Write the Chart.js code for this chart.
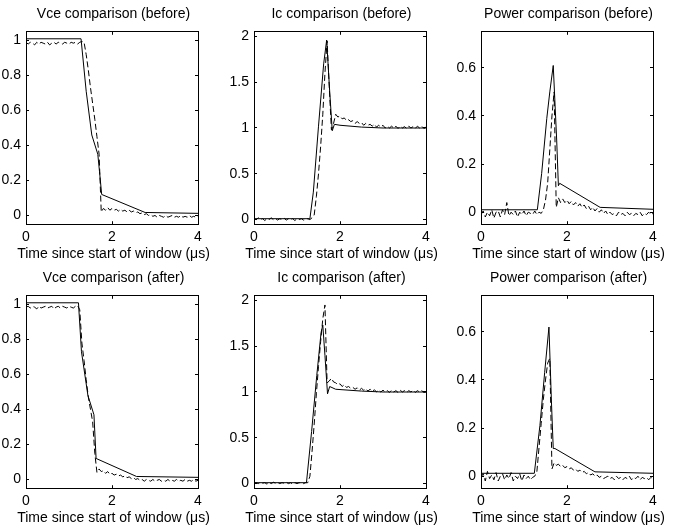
<!DOCTYPE html>
<html>
<head>
<meta charset="utf-8">
<script src="https://cdn.jsdelivr.net/npm/chart.js@4.4.1/dist/chart.umd.min.js"></script>
<style>
  html, body { margin: 0; padding: 0; background: #fff; }
  #page { position: relative; width: 682px; height: 529px; }
  .panel { position: absolute; width: 227px; height: 264px; }
</style>
</head>
<body>
<div id="page">
  <canvas id="vceBefore" class="panel" width="227" height="264" style="left:0px;top:0px"></canvas>
  <canvas id="icBefore" class="panel" width="227" height="264" style="left:228px;top:0px"></canvas>
  <canvas id="powerBefore" class="panel" width="227" height="264" style="left:455px;top:0px"></canvas>
  <canvas id="vceAfter" class="panel" width="227" height="264" style="left:0px;top:264px"></canvas>
  <canvas id="icAfter" class="panel" width="227" height="264" style="left:228px;top:264px"></canvas>
  <canvas id="powerAfter" class="panel" width="227" height="264" style="left:455px;top:264px"></canvas>
</div>
<script>
// tick labels
const xTicks = [0, 2, 4];
const vceTicks = [0, 0.2, 0.4, 0.6, 0.8, 1];
const icTicks = [0, 0.5, 1, 1.5, 2];
const powerTicks = [0, 0.2, 0.4, 0.6];

// measured waveforms share one time base (us)
const tMeas = [
  0, 0.05, 0.1, 0.15, 0.2, 0.25, 0.3, 0.35, 0.4, 0.45,
  0.5, 0.55, 0.6, 0.65, 0.7, 0.75, 0.8, 0.85, 0.9, 0.95,
  1.0, 1.05, 1.1, 1.15, 1.2, 1.25, 1.3, 1.35, 1.4, 1.45,
  1.5, 1.55, 1.6, 1.65, 1.7, 1.75, 1.8, 1.85, 1.9, 1.95,
  2.0, 2.05, 2.1, 2.15, 2.2, 2.25, 2.3, 2.35, 2.4, 2.45,
  2.5, 2.55, 2.6, 2.65, 2.7, 2.75, 2.8, 2.85, 2.9, 2.95,
  3.0, 3.05, 3.1, 3.15, 3.2, 3.25, 3.3, 3.35, 3.4, 3.45,
  3.5, 3.55, 3.6, 3.65, 3.7, 3.75, 3.8, 3.85, 3.9, 3.95,
  4.0
];

// --- before ---
const vceBeforeModelT = [0, 1.28, 1.4, 1.53, 1.67, 1.71, 1.76, 2.77, 4];
const vceBeforeModel = [1.01, 1.01, 0.71, 0.46, 0.35, 0.25, 0.12, 0.017, 0.012];
const vceBeforeMeas = [
  0.99, 0.98, 0.99, 0.985, 0.975, 0.99, 0.98, 0.99, 0.985, 0.98,
  0.99, 0.975, 0.985, 0.99, 0.98, 0.99, 0.985, 0.98, 0.99, 0.985,
  0.98, 0.99, 0.985, 0.99, 0.98, 0.99, 0.995, 0.99, 0.92, 0.83,
  0.73, 0.64, 0.55, 0.45, 0.35, 0.02, 0.04, 0.03, 0.045, 0.03,
  0.04, 0.03, 0.035, 0.025, 0.035, 0.025, 0.03, 0.02, 0.03, 0.02,
  0.025, 0.015, 0.02, 0.01, 0.015, 0.005, 0.01, 0.0, 0.005, -0.005,
  0.0, -0.01, 0.0, -0.005, -0.01, 0.0, -0.01, -0.005, 0.0, -0.01,
  -0.005, -0.01, 0.0, -0.01, -0.005, -0.01, 0.0, -0.01, -0.005, -0.01,
  0.0
];

const icBeforeModelT = [0, 1.3, 1.38, 1.5, 1.62, 1.69, 1.76, 1.82, 1.87, 2.0, 2.5, 3.0, 4.0];
const icBeforeModel = [0.01, 0.01, 0.3, 1.02, 1.7, 1.96, 1.4, 0.97, 1.04, 1.03, 1.01, 1.0, 1.0];
const icBeforeMeas = [
  0.01, 0.0, 0.02, 0.0, 0.01, -0.01, 0.01, 0.0, 0.02, 0.0,
  0.01, -0.005, 0.01, 0.0, 0.015, -0.005, 0.01, 0.0, 0.01, -0.01,
  0.01, 0.0, 0.01, -0.005, 0.0, 0.01, 0.0, 0.02, 0.05, 0.25,
  0.5, 0.8, 1.15, 1.6, 1.95, 1.45, 0.98, 1.05, 1.15, 1.12,
  1.13, 1.1, 1.11, 1.08, 1.09, 1.07, 1.08, 1.05, 1.07, 1.05,
  1.06, 1.03, 1.05, 1.03, 1.04, 1.02, 1.04, 1.01, 1.03, 1.01,
  1.03, 1.0, 1.02, 1.0, 1.02, 1.0, 1.02, 0.995, 1.02, 1.0,
  1.015, 0.995, 1.02, 1.0, 1.015, 0.995, 1.02, 1.0, 1.02, 0.995,
  1.01
];

const powerBeforeModelT = [0, 1.31, 1.41, 1.53, 1.6, 1.68, 1.76, 1.8, 1.83, 2.77, 4];
const powerBeforeModel = [0.01, 0.01, 0.16, 0.39, 0.5, 0.61, 0.3, 0.11, 0.12, 0.02, 0.012];
const powerBeforeMeas = [
  -0.01, 0.005, -0.02, 0.0, -0.015, 0.01, -0.025, 0.0, 0.005, -0.02,
  0.01, -0.01, 0.04, -0.015, 0.0, -0.01, 0.005, -0.02, 0.0, -0.01,
  0.005, -0.015, 0.0, -0.005, -0.01, 0.005, -0.01, 0.0, -0.005, 0.01,
  0.05, 0.12, 0.26, 0.40, 0.50, 0.02, 0.06, 0.04, 0.055, 0.04,
  0.05, 0.035, 0.045, 0.03, 0.04, 0.025, 0.035, 0.02, 0.03, 0.015,
  0.025, 0.01, 0.02, 0.005, 0.015, 0.0, 0.01, -0.005, 0.005, -0.01,
  0.0, -0.01, -0.005, -0.015, 0.0, -0.01, -0.005, -0.015, 0.0, -0.01,
  -0.005, -0.015, -0.005, -0.01, 0.0, -0.015, -0.005, -0.01, 0.0, -0.01,
  -0.005
];

// --- after ---
const vceAfterModelT = [0, 1.22, 1.29, 1.44, 1.58, 1.63, 2.57, 4];
const vceAfterModel = [1.01, 1.01, 0.73, 0.48, 0.37, 0.12, 0.017, 0.012];
const vceAfterMeas = [
  0.985, 0.99, 0.98, 0.99, 0.985, 0.975, 0.99, 0.98, 0.985, 0.99,
  0.98, 0.985, 0.99, 0.975, 0.985, 0.99, 0.98, 0.99, 0.985, 0.98,
  0.99, 0.985, 0.98, 0.99, 0.995, 0.97, 0.78, 0.68, 0.57, 0.47,
  0.40, 0.33, 0.15, 0.04, 0.06, 0.045, 0.05, 0.035, 0.045, 0.03,
  0.035, 0.025, 0.03, 0.02, 0.025, 0.015, 0.02, 0.01, 0.015, 0.005,
  0.01, 0.0, 0.005, -0.005, 0.0, -0.01, 0.0, -0.005, -0.01, 0.0,
  -0.01, -0.005, 0.0, -0.01, -0.005, -0.01, 0.0, -0.01, -0.005, -0.01,
  0.0, -0.01, -0.005, -0.01, 0.0, -0.01, -0.005, -0.01, 0.0, -0.01,
  -0.005
];

const icAfterModelT = [0, 1.22, 1.34, 1.46, 1.56, 1.6, 1.65, 1.71, 1.76, 1.9, 2.5, 3.0, 4];
const icAfterModel = [0.01, 0.01, 0.57, 1.18, 1.65, 1.73, 1.4, 0.98, 1.06, 1.03, 1.01, 1.0, 1.0];
const icAfterMeas = [
  0.005, 0.01, 0.0, 0.015, 0.005, 0.01, -0.005, 0.01, 0.0, 0.015,
  0.005, 0.01, 0.0, 0.01, 0.005, 0.015, 0.0, 0.01, -0.005, 0.01,
  0.0, 0.01, 0.005, 0.0, 0.01, 0.01, 0.08, 0.35, 0.65, 0.98,
  1.28, 1.55, 1.8, 1.95, 1.1, 1.12, 1.15, 1.11, 1.1, 1.08,
  1.09, 1.06, 1.08, 1.05, 1.06, 1.04, 1.05, 1.03, 1.045, 1.02,
  1.04, 1.02, 1.035, 1.01, 1.03, 1.005, 1.025, 1.0, 1.02, 1.0,
  1.02, 1.0, 1.015, 0.995, 1.02, 1.0, 1.015, 0.995, 1.02, 1.0,
  1.015, 0.995, 1.015, 1.0, 1.02, 0.995, 1.015, 1.0, 1.015, 0.995,
  1.0
];

const powerAfterModelT = [0, 1.24, 1.37, 1.48, 1.58, 1.64, 1.68, 1.72, 2.65, 4];
const powerAfterModel = [0.012, 0.012, 0.21, 0.43, 0.62, 0.3, 0.115, 0.115, 0.018, 0.012];
const powerAfterMeas = [
  -0.005, 0.01, -0.02, 0.02, -0.01, 0.005, -0.015, 0.015, -0.02, 0.0,
  0.01, -0.015, 0.005, -0.01, 0.015, -0.02, 0.0, -0.01, 0.01, -0.02,
  0.005, -0.01, 0.0, -0.015, -0.005, 0.0, 0.02, 0.12, 0.22, 0.32,
  0.40, 0.47, 0.49, 0.03, 0.055, 0.045, 0.05, 0.04, 0.045, 0.035,
  0.04, 0.03, 0.035, 0.025, 0.03, 0.02, 0.025, 0.015, 0.02, 0.01,
  0.015, 0.005, 0.01, 0.0, 0.005, -0.005, 0.0, -0.01, -0.005, 0.0,
  -0.01, -0.005, -0.015, 0.0, -0.01, -0.005, -0.015, -0.005, -0.01, 0.0,
  -0.015, -0.005, -0.01, 0.0, -0.015, -0.005, -0.01, -0.005, -0.015, -0.005,
  -0.01
];

const xLabel = 'Time since start of window (\u03bcs)';

const fontFamily = "'Liberation Sans', Arial, Helvetica, sans-serif";
Chart.defaults.font.family = fontFamily;
Chart.defaults.font.size = 14;
Chart.defaults.color = '#000';

function pts(ts, vs) {
  return ts.map((t, i) => ({ x: t, y: vs[i] }));
}

// MATLAB-like axis: inward tick marks, black box edge
// size = fixed thickness of the axis strip in px
function axis(position, min, max, tickValues, withLabels, size) {
  const horizontal = position === 'top' || position === 'bottom';
  return {
    type: 'linear',
    axis: horizontal ? 'x' : 'y',
    position: position,
    min: min,
    max: max,
    afterBuildTicks: s => { s.ticks = tickValues.map(v => ({ value: v })); },
    afterFit: s => {
      if (horizontal) s.height = size;
      else s.width = size;
    },
    grid: { drawOnChartArea: false, drawTicks: true, tickLength: -3, color: '#000', lineWidth: 1 },
    border: { display: true, color: '#000', width: 1 },
    ticks: {
      display: withLabels,
      padding: 8,
      color: '#000',
      font: { family: fontFamily, size: 14 },
      callback: v => String(+v.toFixed(2))
    }
  };
}

function panel(id, title, yMin, yMax, yTicks, modelT, model, meas) {
  new Chart(document.getElementById(id), {
    type: 'line',
    data: {
      datasets: [
        {
          label: 'model',
          data: pts(modelT, model),
          borderColor: '#000',
          borderWidth: 1,
          pointRadius: 0,
          fill: false,
          tension: 0
        },
        {
          label: 'measured',
          data: pts(tMeas, meas),
          borderColor: '#000',
          borderWidth: 1,
          borderDash: [6, 3],
          pointRadius: 0,
          fill: false,
          tension: 0
        }
      ]
    },
    options: {
      responsive: false,
      animation: false,
      events: [],
      layout: { padding: 0 },
      plugins: {
        legend: { display: false },
        tooltip: { enabled: false },
        title: {
          display: true,
          text: title,
          color: '#000',
          font: { family: fontFamily, size: 14, weight: 'normal' },
          padding: { top: 6, bottom: 9 }
        },
        // x-axis label, as a full-width bottom subtitle so it is not squeezed
        subtitle: {
          display: true,
          position: 'bottom',
          text: xLabel,
          color: '#000',
          font: { family: fontFamily, size: 14, weight: 'normal' },
          padding: { top: 0, bottom: 1 }
        }
      },
      scales: {
        x: axis('bottom', 0, 4, xTicks, true, 22),
        y: axis('left', yMin, yMax, yTicks, true, 26),
        x2: axis('top', 0, 4, xTicks, false, 0),
        y2: axis('right', yMin, yMax, yTicks, false, 29)
      }
    }
  });
}

panel('vceBefore', 'Vce comparison (before)', -0.05, 1.05, vceTicks, vceBeforeModelT, vceBeforeModel, vceBeforeMeas);
panel('icBefore', 'Ic comparison (before)', -0.05, 2.05, icTicks, icBeforeModelT, icBeforeModel, icBeforeMeas);
panel('powerBefore', 'Power comparison (before)', -0.05, 0.75, powerTicks, powerBeforeModelT, powerBeforeModel, powerBeforeMeas);
panel('vceAfter', 'Vce comparison (after)', -0.05, 1.05, vceTicks, vceAfterModelT, vceAfterModel, vceAfterMeas);
panel('icAfter', 'Ic comparison (after)', -0.05, 2.05, icTicks, icAfterModelT, icAfterModel, icAfterMeas);
panel('powerAfter', 'Power comparison (after)', -0.05, 0.75, powerTicks, powerAfterModelT, powerAfterModel, powerAfterMeas);
</script>
</body>
</html>
